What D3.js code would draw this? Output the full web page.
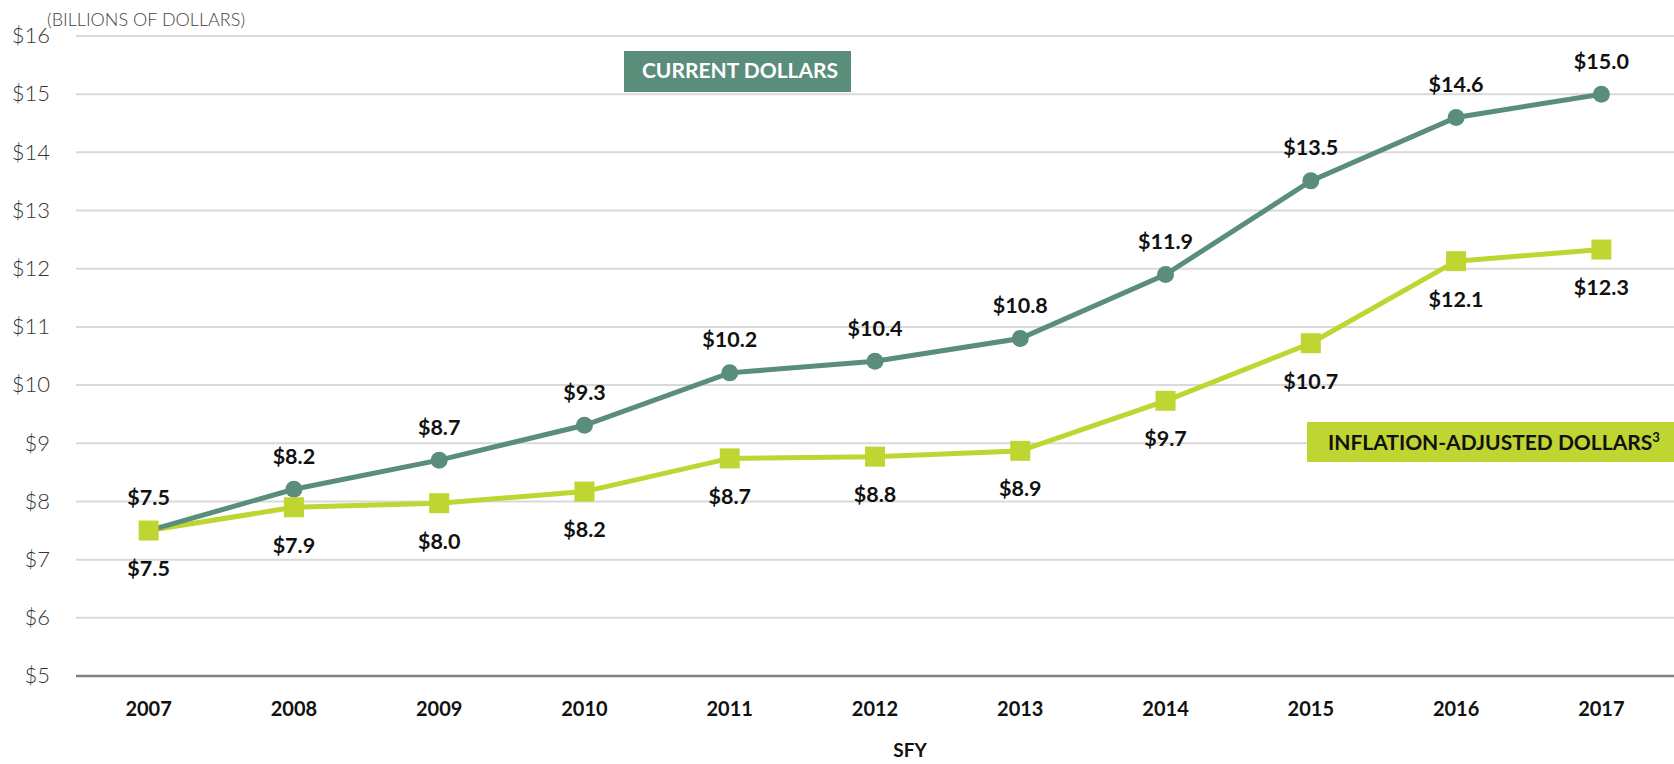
<!DOCTYPE html>
<head>
  <meta charset="utf-8">
  <script src="https://d3js.org/d3.v7.min.js"></script>
  <style>
    body { margin:0; background:#fff; }
    text { font-family: Lato, "Open Sans", sans-serif; }
  </style>
</head>
<body>
  <script>
    // data
    var years = ['2007','2008','2009','2010','2011','2012','2013','2014','2015','2016','2017'];
    var current = [7.5, 8.21, 8.71, 9.31, 10.21, 10.41, 10.8, 11.9, 13.51, 14.6, 15.0];
    var adjusted = [7.5, 7.9, 7.97, 8.17, 8.74, 8.77, 8.87, 9.73, 10.72, 12.13, 12.33];
    var yTicks = [5, 6, 7, 8, 9, 10, 11, 12, 13, 14, 15, 16];

    var width = 1674, height = 764;
    var darkGreen = '#5a8e7a', lime = '#bfd531';

    var svg = d3.select('body').append('svg')
      .attr('width', width)
      .attr('height', height);

    var x = d3.scalePoint()
      .domain(years)
      .range([76, width])
      .padding(0.5);

    var y = d3.scaleLinear()
      .domain([5, 16])
      .range([676, 36]);

    // gridlines
    svg.append('g').selectAll('line')
      .data(yTicks.filter(d => d > 5))
      .enter().append('line')
      .attr('x1', 76).attr('x2', width)
      .attr('y1', d => y(d)).attr('y2', d => y(d))
      .style('stroke', '#d9d9d9')
      .style('stroke-width', 2);

    // baseline
    svg.append('line')
      .attr('x1', 76).attr('x2', width)
      .attr('y1', y(5)).attr('y2', y(5))
      .style('stroke', '#808080')
      .style('stroke-width', 2.5);

    // y labels
    svg.append('g').selectAll('text')
      .data(yTicks)
      .enter().append('text')
      .attr('x', 50)
      .attr('y', d => y(d))
      .attr('dy', '0.33em')
      .style('text-anchor', 'end')
      .style('font-size', '22px')
      .style('font-weight', 300)
      .style('fill', '#333')
      .text(d => '$' + d);

    svg.append('text')
      .attr('x', 47).attr('y', 26)
      .style('font-size', '18px')
      .style('font-weight', 300)
      .style('fill', '#444')
      .text('(BILLIONS OF DOLLARS)');

    // x labels
    svg.append('g').selectAll('text')
      .data(years)
      .enter().append('text')
      .attr('x', d => x(d))
      .attr('y', 716)
      .style('text-anchor', 'middle')
      .style('font-size', '20px')
      .style('font-weight', 700)
      .style('fill', '#111')
      .text(d => d);

    svg.append('text')
      .attr('x', 910).attr('y', 757)
      .style('text-anchor', 'middle')
      .style('font-size', '19px')
      .style('font-weight', 700)
      .style('fill', '#111')
      .text('SFY');

    var line = d3.line()
      .x((d, i) => x(years[i]))
      .y(d => y(d));

    // inflation-adjusted series
    svg.append('path')
      .datum(adjusted)
      .attr('d', line)
      .style('fill', 'none')
      .style('stroke', lime)
      .style('stroke-width', 5);

    // current dollars series
    svg.append('path')
      .datum(current)
      .attr('d', line)
      .style('fill', 'none')
      .style('stroke', darkGreen)
      .style('stroke-width', 5);

    svg.append('g').selectAll('circle')
      .data(current)
      .enter().append('circle')
      .attr('cx', (d, i) => x(years[i]))
      .attr('cy', d => y(d))
      .attr('r', 8.5)
      .style('fill', darkGreen);

    svg.append('g').selectAll('rect')
      .data(adjusted)
      .enter().append('rect')
      .attr('x', (d, i) => x(years[i]) - 10)
      .attr('y', d => y(d) - 10)
      .attr('width', 20)
      .attr('height', 20)
      .style('fill', lime);

    // value labels
    svg.append('g').selectAll('text')
      .data(current)
      .enter().append('text')
      .attr('x', (d, i) => x(years[i]))
      .attr('y', d => y(d) - 33)
      .attr('dy', '0.35em')
      .style('text-anchor', 'middle')
      .style('font-size', '21.5px')
      .style('font-weight', 700)
      .style('fill', '#111')
      .text(d => '$' + d.toFixed(1));

    svg.append('g').selectAll('text')
      .data(adjusted)
      .enter().append('text')
      .attr('x', (d, i) => x(years[i]))
      .attr('y', d => y(d) + 38)
      .attr('dy', '0.35em')
      .style('text-anchor', 'middle')
      .style('font-size', '21.5px')
      .style('font-weight', 700)
      .style('fill', '#111')
      .text(d => '$' + d.toFixed(1));

    // legend boxes
    svg.append('rect')
      .attr('x', 624).attr('y', 51)
      .attr('width', 227).attr('height', 41)
      .style('fill', darkGreen);
    svg.append('text')
      .attr('x', 740).attr('y', 78)
      .style('text-anchor', 'middle')
      .style('font-size', '21px')
      .style('font-weight', 700)
      .style('fill', '#fff')
      .text('CURRENT DOLLARS');

    svg.append('rect')
      .attr('x', 1307).attr('y', 422)
      .attr('width', 367).attr('height', 40)
      .style('fill', lime);
    var t2 = svg.append('text')
      .attr('x', 1328).attr('y', 450)
      .style('font-size', '21px')
      .style('font-weight', 700)
      .style('fill', '#111');
    t2.append('tspan').text('INFLATION-ADJUSTED DOLLARS');
    t2.append('tspan')
      .attr('dy', -8)
      .style('font-size', '13px')
      .text('3');
  </script>
</body>
